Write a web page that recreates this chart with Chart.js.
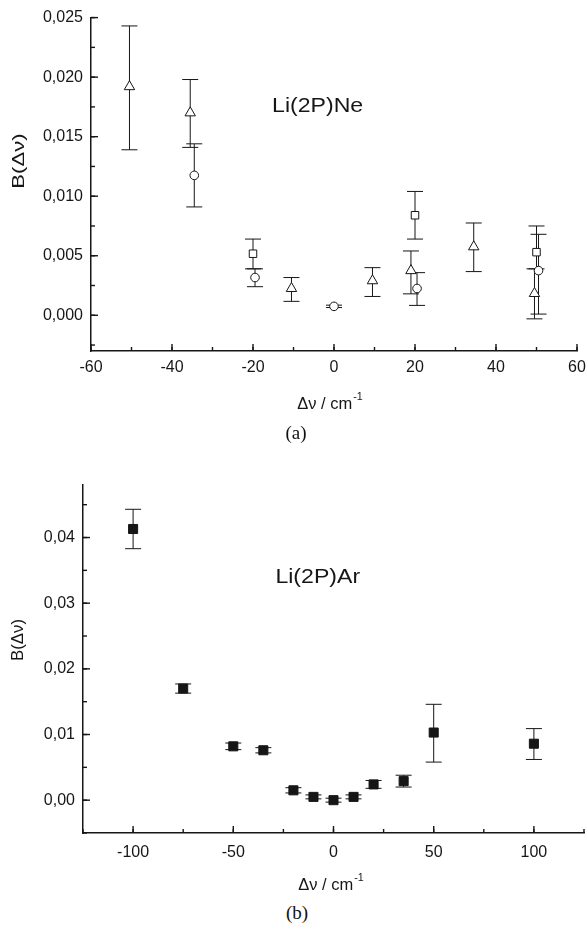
<!DOCTYPE html>
<html>
<head>
<meta charset="utf-8">
<script src="https://cdn.jsdelivr.net/npm/chart.js@4.4.1/dist/chart.umd.min.js"></script>
<style>
  body { margin: 0; background: #fff; width: 587px; height: 936px; position: relative; overflow: hidden; }
  canvas { position: absolute; left: 0; }
  #chartA { top: 0; }
  #chartB { top: 460px; }
  .cap { position: absolute; font-family: "Liberation Serif", "DejaVu Serif", serif; font-size: 19px; color: #111; transform: translate(-50%, -50%); }
</style>
</head>
<body>
<canvas id="chartA" width="587" height="440"></canvas>
<canvas id="chartB" width="587" height="440"></canvas>
<div class="cap" style="left:296px; top:433px;">(a)</div>
<div class="cap" style="left:297px; top:913px;">(b)</div>
<script>
// (a) Li(2P)Ne, three series (triangles, circles, squares)
const neTriX  = [-50.5, -35.5, -10.5, 9.5, 19, 34.5, 49.5];
const neTriY  = [0.0192, 0.0170, 0.00225, 0.0029, 0.00375, 0.00575, 0.00183];
const neTriLo = [0.0139, 0.0141, 0.00117, 0.00158, 0.0018, 0.00367, -0.0003];
const neTriHi = [0.0243, 0.0198, 0.00317, 0.0040, 0.0054, 0.00775, 0.0039];

const neCircX  = [-34.5, -19.5, 0, 20.5, 50.5];
const neCircY  = [0.01175, 0.00317, 0.00075, 0.00225, 0.00375];
const neCircLo = [0.0091, 0.0024, 0.00065, 0.00083, 0.0001];
const neCircHi = [0.0144, 0.0039, 0.00085, 0.00358, 0.0068];

const neSqX  = [-20, 20, 50];
const neSqY  = [0.00517, 0.0084, 0.0053];
const neSqLo = [0.0039, 0.0064, 0.0039];
const neSqHi = [0.0064, 0.0104, 0.0075];

const neXTicks = [-60, -40, -20, 0, 20, 40, 60];
const neYTicks = [0, 0.005, 0.010, 0.015, 0.020, 0.025];

// (b) Li(2P)Ar
const arX  = [-100, -75, -50, -35, -20, -10, 0, 10, 20, 35, 50, 100];
const arY  = [0.0413, 0.0170, 0.0082, 0.0076, 0.0015, 0.0005, 0.0000, 0.0005, 0.0024, 0.0029, 0.0103, 0.0086];
const arLo = [0.0383, 0.0163, 0.0077, 0.0072, 0.0011, 0.0002, -0.0003, 0.0002, 0.0018, 0.0020, 0.0058, 0.0062];
const arHi = [0.0443, 0.0177, 0.0087, 0.0080, 0.0019, 0.0008, 0.0003, 0.0008, 0.0030, 0.0038, 0.0146, 0.0109];

const arXTicks = [-100, -50, 0, 50, 100];
const arYTicks = [0, 0.01, 0.02, 0.03, 0.04];

const INK = '#161616';
const sans = '"Liberation Sans", Arial, sans-serif';
const tickFont = { family: sans, size: 16 };

function pts(xs, ys) {
  return xs.map((x, i) => ({ x: x, y: ys[i] }));
}

function fixTicks(values) {
  return scale => { scale.ticks = values.map(v => ({ value: v })); };
}

// vertical error bars with caps, drawn under the markers
const errorBars = {
  id: 'errorBars',
  beforeDatasetsDraw(chart, args, opts) {
    const ctx = chart.ctx, xs = chart.scales.x, ys = chart.scales.y;
    const c = opts.cap || 8;
    ctx.save();
    ctx.strokeStyle = INK;
    ctx.lineWidth = 1;
    chart.data.datasets.forEach(ds => {
      if (!ds.errLo) return;
      ds.data.forEach((p, i) => {
        const px = xs.getPixelForValue(p.x);
        const lo = ys.getPixelForValue(ds.errLo[i]);
        const hi = ys.getPixelForValue(ds.errHi[i]);
        ctx.beginPath();
        ctx.moveTo(px, lo); ctx.lineTo(px, hi);
        ctx.moveTo(px - c, lo); ctx.lineTo(px + c, lo);
        ctx.moveTo(px - c, hi); ctx.lineTo(px + c, hi);
        ctx.stroke();
      });
    });
    ctx.restore();
  }
};

// ticks pointing into the plot, major and minor
const innerTicks = {
  id: 'innerTicks',
  afterDraw(chart, args, opts) {
    const ctx = chart.ctx, a = chart.chartArea;
    ctx.save();
    ctx.strokeStyle = INK;
    ctx.lineWidth = 1.4;
    const mark = (scale, v, len) => {
      const p = scale.getPixelForValue(v);
      ctx.beginPath();
      if (scale.isHorizontal()) { ctx.moveTo(p, a.bottom); ctx.lineTo(p, a.bottom - len); }
      else { ctx.moveTo(a.left, p); ctx.lineTo(a.left + len, p); }
      ctx.stroke();
    };
    [['x', opts.xMinor], ['y', opts.yMinor]].forEach(([id, step]) => {
      const s = chart.scales[id];
      const i0 = Math.ceil(s.min / step - 1e-6), i1 = Math.floor(s.max / step + 1e-6);
      for (let i = i0; i <= i1; i++) mark(s, i * step, 4);
      s.ticks.forEach(t => mark(s, t.value, 7));
    });
    ctx.restore();
  }
};

// free texts: axis titles and the system label
const texts = {
  id: 'texts',
  afterDraw(chart, args, opts) {
    const ctx = chart.ctx;
    ctx.save();
    ctx.fillStyle = INK;
    (opts.items || []).forEach(it => {
      let x = it.x, y = it.y;
      if (it.dataX !== undefined) {
        x = chart.scales.x.getPixelForValue(it.dataX);
        y = chart.scales.y.getPixelForValue(it.dataY);
      }
      ctx.save();
      ctx.translate(x, y);
      if (it.rotate) ctx.rotate(it.rotate);
      if (it.stretch) ctx.scale(it.stretch, 1);
      ctx.font = it.size + 'px ' + sans;
      ctx.textBaseline = it.baseline || 'middle';
      const w = ctx.measureText(it.text).width;
      let supW = 0;
      if (it.sup) {
        ctx.font = (it.size * 0.65) + 'px ' + sans;
        supW = ctx.measureText(it.sup).width + 1;
        ctx.font = it.size + 'px ' + sans;
      }
      const x0 = it.align === 'left' ? 0 : -(w + supW) / 2;
      ctx.textAlign = 'left';
      ctx.fillText(it.text, x0, 0);
      if (it.sup) {
        ctx.font = (it.size * 0.65) + 'px ' + sans;
        ctx.fillText(it.sup, x0 + w + 1, -it.size * 0.45);
      }
      ctx.restore();
    });
    ctx.restore();
  }
};

function baseScales(o) {
  return {
    x: {
      type: 'linear', min: o.xMin, max: o.xMax,
      afterBuildTicks: fixTicks(o.xTicks),
      afterFit: s => { s.height = o.xH; s.paddingRight = 0; s.paddingLeft = 0; },
      grid: { display: false, drawTicks: false },
      border: { display: true, color: INK, width: 1.5 },
      ticks: { font: tickFont, color: INK, padding: o.xPad, maxRotation: 0, callback: v => String(v) }
    },
    y: {
      type: 'linear', min: o.yMin, max: o.yMax,
      afterBuildTicks: fixTicks(o.yTicks),
      afterFit: s => { s.width = o.yW; },
      grid: { display: false, drawTicks: false },
      border: { display: true, color: INK, width: 1.5 },
      ticks: { font: tickFont, color: INK, padding: 8, callback: v => v.toFixed(o.yDec).replace('.', ',') }
    }
  };
}

const openPt = { showLine: false, pointBackgroundColor: '#fff', pointBorderColor: INK, pointBorderWidth: 1 };

new Chart(document.getElementById('chartA'), {
  type: 'scatter',
  data: {
    datasets: [
      Object.assign({ label: 'triangles', data: pts(neTriX, neTriY), errLo: neTriLo, errHi: neTriHi, pointStyle: 'triangle', pointRadius: 6 }, openPt),
      Object.assign({ label: 'circles', data: pts(neCircX, neCircY), errLo: neCircLo, errHi: neCircHi, pointStyle: 'circle', pointRadius: 4.3 }, openPt),
      Object.assign({ label: 'squares', data: pts(neSqX, neSqY), errLo: neSqLo, errHi: neSqHi, pointStyle: 'rect', pointRadius: 5.3 }, openPt)
    ]
  },
  options: {
    responsive: false, animation: false, devicePixelRatio: 1,
    layout: { autoPadding: false, padding: { top: 15, right: 10, left: 0, bottom: 0 } },
    plugins: {
      legend: { display: false }, tooltip: { enabled: false },
      errorBars: { cap: 8 },
      innerTicks: { xMinor: 10, yMinor: 0.0025 },
      texts: { items: [
        { text: 'B(\u0394\u03bd)', x: 19, y: 161, size: 17, stretch: 1.3, rotate: -Math.PI / 2 },
        { text: '\u0394\u03bd / cm', sup: '-1', x: 330, y: 404, size: 16.5 },
        { text: 'Li(2P)Ne', dataX: -15.3, dataY: 0.01708, size: 21, stretch: 1.1, align: 'left', baseline: 'alphabetic' }
      ] }
    },
    scales: baseScales({ xMin: -60, xMax: 60, xTicks: neXTicks, xH: 89, xPad: 7,
                         yMin: -0.003, yMax: 0.025, yTicks: neYTicks, yW: 91, yDec: 3 })
  },
  plugins: [errorBars, innerTicks, texts]
});

new Chart(document.getElementById('chartB'), {
  type: 'scatter',
  data: {
    datasets: [
      { label: 'Li(2P)Ar', data: pts(arX, arY), errLo: arLo, errHi: arHi, showLine: false,
        pointStyle: 'rect', pointRadius: 6.4, pointBackgroundColor: INK, pointBorderColor: INK, pointBorderWidth: 1 }
    ]
  },
  options: {
    responsive: false, animation: false, devicePixelRatio: 1,
    layout: { autoPadding: false, padding: { top: 25, right: 3, left: 0, bottom: 0 } },
    plugins: {
      legend: { display: false }, tooltip: { enabled: false },
      errorBars: { cap: 8 },
      innerTicks: { xMinor: 25, yMinor: 0.005 },
      texts: { items: [
        { text: 'B(\u0394\u03bd)', x: 19, y: 180, size: 16, stretch: 1.05, rotate: -Math.PI / 2 },
        { text: '\u0394\u03bd / cm', sup: '-1', x: 331, y: 425, size: 16.5 },
        { text: 'Li(2P)Ar', dataX: -29, dataY: 0.0330, size: 21, stretch: 1.1, align: 'left', baseline: 'alphabetic' }
      ] }
    },
    scales: baseScales({ xMin: -125, xMax: 125, xTicks: arXTicks, xH: 67, xPad: 10,
                         yMin: -0.005, yMax: 0.048, yTicks: arYTicks, yW: 83, yDec: 2 })
  },
  plugins: [errorBars, innerTicks, texts]
});
</script>
</body>
</html>
